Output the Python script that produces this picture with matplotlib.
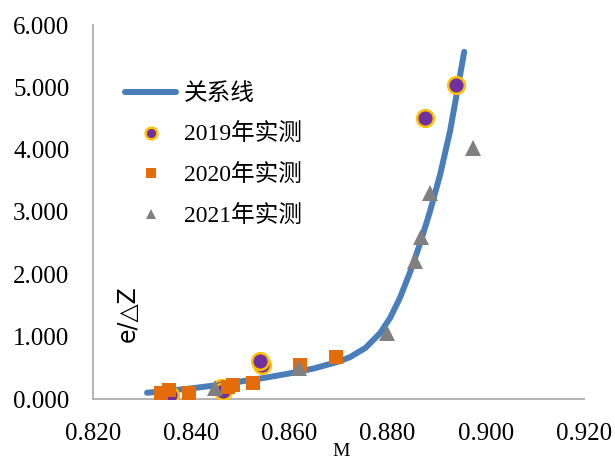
import matplotlib.pyplot as plt

# relation curve
curve_m = [0.831, 0.835, 0.840, 0.845, 0.850, 0.855, 0.860, 0.865, 0.870,
           0.8723, 0.8755, 0.8785, 0.8805, 0.8825, 0.8846, 0.8866, 0.8886,
           0.8907, 0.8927, 0.8943, 0.8956]
curve_v = [0.10, 0.13, 0.17, 0.22, 0.28, 0.34, 0.41, 0.49, 0.60,
           0.67, 0.82, 1.06, 1.30, 1.62, 2.04, 2.49, 3.00,
           3.60, 4.29, 4.99, 5.57]

# measured points
m2019 = [0.8357, 0.8460, 0.8465, 0.8544, 0.8540, 0.8876, 0.8939]
v2019 = [0.06, 0.17, 0.13, 0.55, 0.61, 4.51, 5.04]

m2020 = [0.8338, 0.8355, 0.8396, 0.8475, 0.8485, 0.8526, 0.8622, 0.8695]
v2020 = [0.10, 0.14, 0.10, 0.19, 0.22, 0.26, 0.55, 0.67]

m2021 = [0.8448, 0.8620, 0.8799, 0.8856, 0.8868, 0.8886, 0.8974]
v2021 = [0.18, 0.50, 1.06, 2.22, 2.60, 3.31, 4.03]

x_ticks = [0.82, 0.84, 0.86, 0.88, 0.90, 0.92]
y_ticks = [0, 1, 2, 3, 4, 5, 6]

serif = ['Liberation Serif', 'Noto Sans CJK SC']

fig = plt.figure(figsize=(6.15, 4.62), dpi=100)
ax = fig.add_axes([93/615, 63/462, 491/615, 374/462])

ax.plot(curve_m, curve_v, color='#4a7ebb', lw=4.3, solid_capstyle='round',
        label='关系线', zorder=2)
ax.plot(m2019, v2019, 'o', ms=12, mfc='#7030a0', mec='#ffc000', mew=1.8,
        label='2019年实测', zorder=3)
ax.plot(m2020, v2020, 's', ms=10, mfc='#e46c0a', mec='#e46c0a', mew=0,
        label='2020年实测', zorder=4)
ax.plot(m2021, v2021, '^', ms=11, mfc='#808080', mec='#808080', mew=0,
        label='2021年实测', zorder=5)

ax.set_xlim(0.82, 0.92)
ax.set_ylim(0, 6)
ax.set_xticks(x_ticks)
ax.set_yticks(y_ticks)
ax.set_xticklabels(['%.3f' % t for t in x_ticks], family=serif, fontsize=18)
ax.set_yticklabels(['%.3f' % t for t in y_ticks], family=serif, fontsize=18)
ax.tick_params(length=0)
ax.tick_params(axis='x', pad=17)
ax.tick_params(axis='y', pad=17)

for s in ['top', 'right']:
    ax.spines[s].set_visible(False)
for s in ['left', 'bottom']:
    ax.spines[s].set_color('#b3b3b3')
    ax.spines[s].set_linewidth(1.4)

# axis titles sit in odd places in the original
fig.text(341/615, 1 - 451/462, 'M', family=serif, fontsize=14,
         ha='center', va='center')
fig.text(128/615, 1 - 314/462, 'e/△Z', family=['DejaVu Sans', 'Noto Sans CJK SC'],
         fontsize=17, rotation=90, ha='center', va='center')

leg = ax.legend(loc='upper left', bbox_to_anchor=(0.045, 0.87), frameon=False,
                prop={'family': serif, 'size': 17}, handlelength=2.2,
                handletextpad=0.3, labelspacing=0.8, markerscale=0.7,
                borderaxespad=0)

fig.savefig('out.png', dpi=100)
